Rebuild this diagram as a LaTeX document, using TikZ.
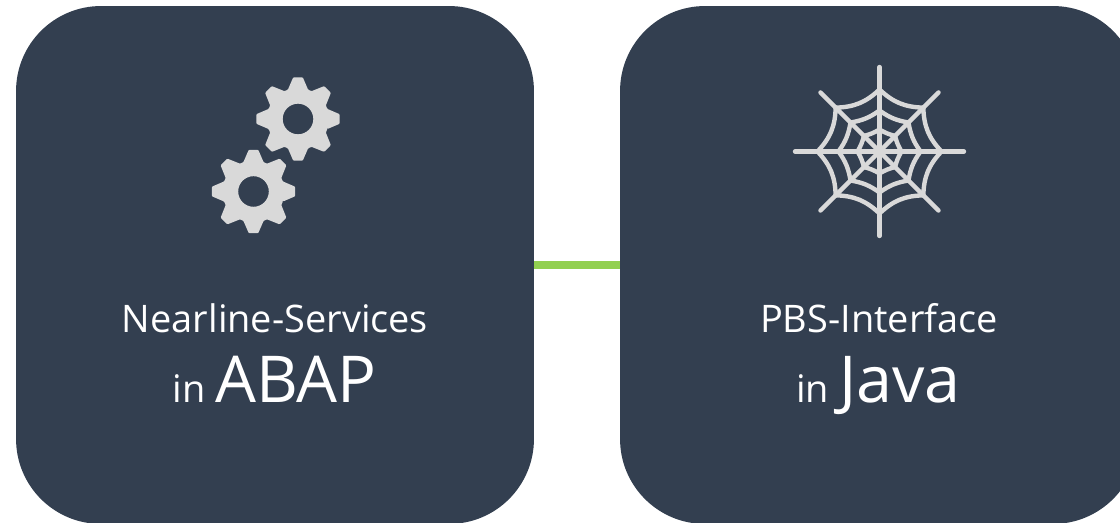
\documentclass[tikz,border=0pt]{standalone}
\usepackage{fontspec}
\setmainfont{Open Sans}
\usepackage{xcolor}
\definecolor{boxblue}{HTML}{333F50}
\definecolor{linkgreen}{HTML}{92D050}
\definecolor{icongray}{HTML}{D9D9D9}
\newcommand{\smalltxt}{\fontsize{21.6}{26}\selectfont}
\newcommand{\bigtxt}{\fontsize{36.8}{42}\selectfont}
\tikzset{
    panel/.style={fill=boxblue,rounded corners=1.7cm,minimum width=10.36cm,minimum height=10.36cm,inner sep=0pt},
    caption/.style={text=white,anchor=base,inner sep=0pt},
    webline/.style={draw=icongray,line width=2.5pt}
}
\begin{document}
\begin{tikzpicture}[line cap=round,line join=round,x=0.02cm,y=0.02cm]
                \useasboundingbox (0,0) rectangle (1120,523);
                \node [panel] (abap) at (275,258) {};
                \node [panel] (java) at (879,258) {};
                \draw [draw=linkgreen,line width=8*0.02cm,line cap=butt] (abap) -- (java);
                \foreach \cx/\cy in {298/404,253.5/331.5} {
                    \begin{scope}[shift={(\cx,\cy)}]
                        \fill [icongray,even odd rule,rounded corners=0.5pt] (-19:31)
                            \foreach \a in {0,45,...,315} {
                                -- ({\a-19}:31) -- ({\a-6.5}:42) -- ({\a+6.5}:42) -- ({\a+19}:31)
                            } -- cycle (0,0) circle (15.3);
                    \end{scope}
                }
                \begin{scope}[shift={(879.5,371.5)}]
                    \foreach \a in {0,90,180,270} {
                        \draw [webline] (0,0) -- (\a:84.5);
                    }
                    \foreach \a in {45,135,225,315} {
                        \draw [webline] (0,0) -- (\a:83.5);
                    }
                    \foreach \a in {0,45,...,315} {
                        \draw [webline] (\a:62) to [bend left=21] ({\a+45}:62);
                        \draw [webline] (\a:41) to [bend left=13] ({\a+45}:41);
                        \draw [webline] (\a:22) to [bend left=8] ({\a+45}:22);
                    }
                \end{scope}
                \node [caption] (abaptop) at (275,190) {\smalltxt Nearline-Services};
                \node [caption] (abapbot) at (274.5,120) {\smalltxt in \bigtxt ABAP};
                \node [caption] (javatop) at (879,190) {\smalltxt PBS-Interface};
                \node [caption] (javabot) at (878.5,120) {\smalltxt in \bigtxt Java};
\end{tikzpicture}
\end{document}
